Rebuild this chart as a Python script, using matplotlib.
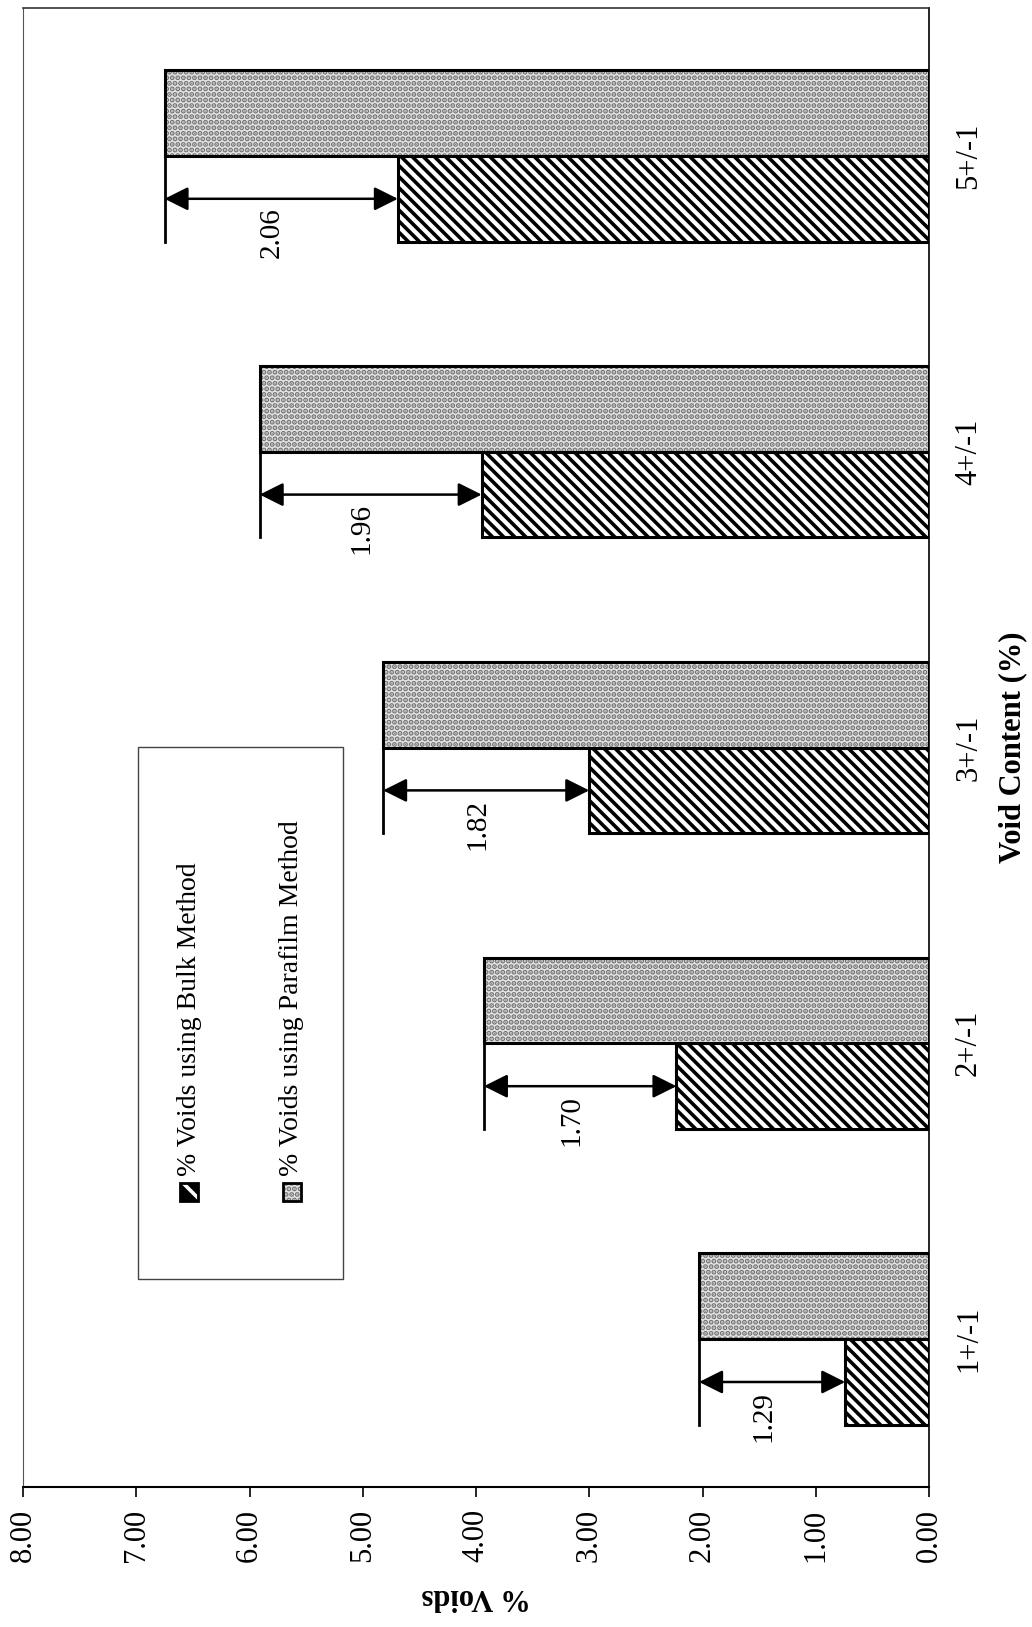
import matplotlib
matplotlib.use("Agg")
import matplotlib.pyplot as plt
from matplotlib.patches import Rectangle

plt.rcParams['font.family'] = ['Liberation Serif', 'DejaVu Serif']
plt.rcParams['hatch.linewidth'] = 2.6

# void content classes and measured % voids
categories = ['1+/-1', '2+/-1', '3+/-1', '4+/-1', '5+/-1']
bulk = [0.74, 2.23, 3.00, 3.95, 4.69]
parafilm = [2.03, 3.93, 4.82, 5.91, 6.75]
diff = [1.29, 1.70, 1.82, 1.96, 2.06]
value_ticks = [0, 1, 2, 3, 4, 5, 6, 7, 8]

W, H = 1032, 1627
fig = plt.figure(figsize=(W / 100, H / 100), dpi=100)
ax = fig.add_axes([23 / W, 1 - 1487 / H, (929 - 23) / W, (1487 - 8) / H])

pos = list(range(len(categories)))
bh = 0.29
grey = '#e4e4e4'
dots = '#747474'

# bulk method bars (dense diagonal stripes)
ax.barh([p - bh / 2 for p in pos], bulk, height=bh, color='white',
        edgecolor='black', hatch='\\\\\\', linewidth=2.2, zorder=2)

# parafilm bars: grey stipple, then a black outline on top
ax.barh([p + bh / 2 for p in pos], parafilm, height=bh, color=grey,
        edgecolor=dots, hatch='...', linewidth=0, zorder=2)
ax.barh([p + bh / 2 for p in pos], parafilm, height=bh, color='none',
        edgecolor='black', linewidth=2.2, zorder=3)

# difference arrows with extension lines
for p, b, f, d in zip(pos, bulk, parafilm, diff):
    ax.plot([f, f], [p - bh, p], color='black', lw=2.0, zorder=4)
    ax.annotate('', xy=(b, p - bh / 2), xytext=(f, p - bh / 2),
                arrowprops=dict(arrowstyle='<|-|>', color='black', lw=1.8,
                                mutation_scale=36, shrinkA=0, shrinkB=0),
                zorder=4)
    ax.text((b + f) / 2 + 0.08, p - 0.26, '%.2f' % d, rotation=90,
            ha='center', va='center', fontsize=21)

ax.set_xlim(8, 0)
ax.set_ylim(-0.5, len(categories) - 0.5)

ax.set_xticks(value_ticks)
ax.set_xticklabels(['%.2f' % v for v in value_ticks])
ax.tick_params(axis='x', direction='out', length=7, width=1.2, pad=9,
               labelsize=22, labelrotation=90)

ax.yaxis.tick_right()
ax.set_yticks(pos)
ax.set_yticklabels(categories, rotation=90, va='center')
ax.tick_params(axis='y', length=0, pad=18, labelsize=22)

ax.yaxis.set_label_position('right')
ax.set_ylabel('Void Content (%)', fontsize=22, fontweight='bold',
              rotation=90, labelpad=11)
ax.set_xlabel('% Voids', fontsize=22, fontweight='bold', rotation=180,
              labelpad=14)

ax.spines['left'].set_linewidth(0.8)
ax.spines['left'].set_color('#555555')
ax.spines['top'].set_linewidth(1.2)
ax.spines['top'].set_color('#333333')
ax.spines['bottom'].set_linewidth(1.5)
ax.spines['right'].set_linewidth(1.2)

# legend box with rotated entries
tf = fig.transFigure
ax.add_patch(Rectangle((138 / W, 1 - 1279 / H), (343 - 138) / W, (1279 - 747) / H,
                       transform=tf, facecolor='white', edgecolor='#444444',
                       linewidth=1.0, clip_on=False, zorder=5))
ms = 18
ax.add_patch(Rectangle(((189 - ms / 2) / W, 1 - (1192 + ms / 2) / H), ms / W, ms / H,
                       transform=tf, facecolor='black', edgecolor='white',
                       hatch='\\', linewidth=0, clip_on=False, zorder=6))
ax.add_patch(Rectangle(((189 - ms / 2) / W, 1 - (1192 + ms / 2) / H), ms / W, ms / H,
                       transform=tf, facecolor='none', edgecolor='black',
                       linewidth=2.0, clip_on=False, zorder=7))
ax.add_patch(Rectangle(((292 - ms / 2) / W, 1 - (1192 + ms / 2) / H), ms / W, ms / H,
                       transform=tf, facecolor=grey, edgecolor=dots,
                       hatch='...', linewidth=0, clip_on=False, zorder=6))
ax.add_patch(Rectangle(((292 - ms / 2) / W, 1 - (1192 + ms / 2) / H), ms / W, ms / H,
                       transform=tf, facecolor='none', edgecolor='black',
                       linewidth=2.0, clip_on=False, zorder=7))
ax.text(189 / W, 1 - 1176 / H, '% Voids using Bulk Method', transform=tf,
        rotation=90, ha='center', va='bottom', fontsize=20, zorder=7)
ax.text(292 / W, 1 - 1176 / H, '% Voids using Parafilm Method', transform=tf,
        rotation=90, ha='center', va='bottom', fontsize=20, zorder=7)

fig.savefig('out.png', dpi=100)
